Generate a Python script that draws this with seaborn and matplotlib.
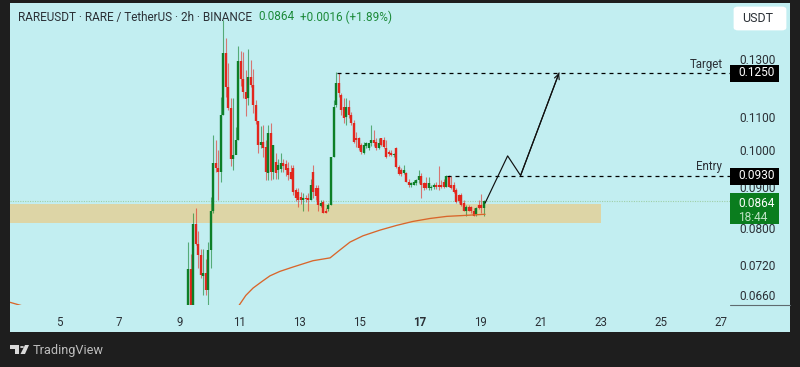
import matplotlib
matplotlib.use("Agg")
import matplotlib.pyplot as plt
from matplotlib.patches import Rectangle, FancyBboxPatch, Polygon, Circle
import numpy as np
import pandas as pd
import seaborn as sns

title_main = "RAREUSDT · RARE / TetherUS · 2h · BINANCE"
title_price = "0.0864"
title_change = "+0.0016 (+1.89%)"
x_ticks = [5, 7, 9, 11, 13, 15, 17, 19, 21, 23, 25, 27]
y_ticks = [0.13, 0.11, 0.10, 0.09, 0.08, 0.072, 0.066]
target_price = 0.1250
entry_price = 0.0930
last_price = 0.0864
zone_top = 0.0856
zone_bottom = 0.0812
zone_end_day = 23
first_candle_day = 9.29

opens = [.0640,.0710,.0640,.0808,.0763,.0741,.0696,.0702,.0670,.0750,.0839,.0963,.0950,.0939,.1106,.1323,.1200,.1129,.0975,.0986,
         .1029,.1292,.1228,.1181,.1162,.1236,.1207,.1139,.1087,.1015,.1023,.1009,.0936,.1050,.0939,.0967,.0944,.0947,.0963,.0961,
         .0950,.0939,.0950,.0891,.0886,.0874,.0866,.0871,.0871,.0866,.0939,.0896,.0896,.0851,.0861,.0841,.0844,.0854,.0980,.1139,
         .1214,.1172,.1132,.1099,.1132,.1106,.1081,.1035,.1035,.1015,.0991,.1012,.1006,.1021,.1029,.1023,.1006,.1035,.1029,.1006,
         .0994,.0991,.0986,.1006,.0952,.0944,.0936,.0936,.0914,.0904,.0906,.0909,.0917,.0928,.0909,.0909,.0896,.0896,.0899,.0904,
         .0904,.0904,.0912,.0901,.0928,.0906,.0906,.0891,.0879,.0879,.0859,.0841,.0849,.0849,.0841,.0832,.0854,.0854,.0846]
closes = [.0710,.0640,.0808,.0763,.0741,.0698,.0702,.0670,.0750,.0839,.0963,.0950,.0939,.1106,.1323,.1200,.1129,.0975,.0986,.1029,
          .1292,.1228,.1181,.1158,.1236,.1207,.1139,.1087,.1015,.1023,.1006,.0939,.1050,.0939,.1015,.0936,.0958,.0963,.0955,.0944,
          .0931,.0922,.0886,.0871,.0866,.0866,.0871,.0869,.0866,.0904,.0886,.0876,.0854,.0859,.0836,.0834,.0854,.0980,.1132,.1214,
          .1178,.1122,.1096,.1132,.1106,.1081,.1023,.1029,.1006,.0994,.1015,.1021,.1021,.1029,.1021,.1006,.1021,.1015,.1009,.0980,
          .0989,.0986,.0989,.0952,.0934,.0934,.0944,.0914,.0904,.0909,.0912,.0917,.0928,.0904,.0896,.0896,.0909,.0901,.0904,.0899,
          .0899,.0899,.0899,.0928,.0901,.0896,.0886,.0861,.0864,.0854,.0841,.0849,.0841,.0841,.0829,.0846,.0846,.0846,.0864]
highs = [.0768,.0743,.0834,.0846,.0794,.0754,.0754,.0731,.0768,.0874,.1044,.1029,.1000,.1165,.1454,.1381,.1285,.1162,.1162,.1069,
         .1349,.1330,.1326,.1260,.1338,.1296,.1263,.1155,.1087,.1072,.1075,.1029,.1075,.1081,.1015,.0991,.0975,.0991,.0975,.0972,
         .0967,.0958,.0958,.0896,.0896,.0886,.0884,.0879,.0884,.0922,.0958,.0904,.0904,.0866,.0866,.0846,.0859,.0980,.1155,.1252,
         .1249,.1178,.1162,.1162,.1155,.1116,.1090,.1053,.1038,.1021,.1023,.1023,.1021,.1075,.1059,.1035,.1035,.1035,.1038,.1029,
         .1000,.1000,.0991,.1009,.0958,.0950,.0958,.0939,.0922,.0912,.0917,.0922,.0944,.0936,.0912,.0925,.0925,.0904,.0909,.0912,
         .0955,.0917,.0922,.0931,.0931,.0928,.0912,.0896,.0881,.0884,.0866,.0854,.0854,.0851,.0846,.0849,.0866,.0881,.0866]
lows = [.0640,.0640,.0640,.0761,.0712,.0692,.0659,.0659,.0640,.0712,.0836,.0939,.0866,.0912,.1106,.1165,.1122,.0955,.0944,.1009,
        .1029,.1203,.1162,.1103,.1139,.1200,.1112,.1078,.0991,.1006,.0980,.0917,.0917,.0917,.0922,.0922,.0922,.0939,.0939,.0928,
        .0917,.0920,.0879,.0864,.0849,.0856,.0841,.0861,.0839,.0866,.0871,.0866,.0839,.0849,.0836,.0834,.0839,.0854,.0980,.1132,
        .1165,.1106,.1081,.1075,.1096,.1075,.1021,.1009,.1000,.0989,.0989,.1006,.1000,.1012,.1012,.1000,.1003,.1012,.1006,.0977,
        .0983,.0983,.0980,.0950,.0931,.0928,.0934,.0912,.0901,.0901,.0904,.0906,.0909,.0871,.0891,.0894,.0891,.0891,.0894,.0894,
        .0891,.0896,.0896,.0899,.0899,.0894,.0884,.0859,.0859,.0851,.0839,.0829,.0839,.0834,.0827,.0829,.0844,.0836,.0829]

ma_days = [10.98, 11.21, 11.45, 11.75, 12.01, 12.34, 12.78, 13.44, 14.01, 14.34, 14.67, 15.10, 15.67, 16.23, 16.76, 17.33, 17.89, 18.43, 19.16]
ma_vals = [.0640, .0659, .0673, .0686, .0697, .0706, .0715, .0728, .0734, .0751, .0768, .0782, .0795, .0806, .0815, .0822, .0827, .0829, .0832]
ma_left_days = [3.37, 3.87]
ma_left_vals = [.0646, .0638]

path_days = [19.16, 19.91, 20.34, 21.62]
path_vals = [.0859, .0984, .0930, .1249]

W, H = 800, 367
BG = "#1e1e1e"
PANEL = "#c2eef1"
INK = "#2b3036"
GREEN = "#0c7f27"
RED = "#e2261d"

sns.set_theme(style="white")
plt.rcParams["font.family"] = ["Roboto", "DejaVu Sans"]

fig = plt.figure(figsize=(W / 100, H / 100), dpi=100, facecolor=BG)
fig.add_artist(Rectangle((10 / W, 1 - 332 / H), 780 / W, 329 / H, transform=fig.transFigure,
                         facecolor=PANEL, edgecolor="none", zorder=-1))
ax = fig.add_axes([10 / W, 1 - 305 / H, 720 / W, 302 / H])
ax.patch.set_alpha(0)
ax.set_yscale("log")
ax.set_xlim(3.372, 27.30)
ax.set_ylim(0.0641, 0.1527)
sns.despine(ax=ax, left=True, bottom=True, top=True, right=True)

ax.xaxis.set_major_locator(matplotlib.ticker.FixedLocator(x_ticks))
ax.set_xticklabels([str(t) for t in x_ticks], fontsize=8.3, color=INK)
for lab, t in zip(ax.get_xticklabels(), x_ticks):
    if t == 17:
        lab.set_fontweight("bold")
ax.yaxis.tick_right()
ax.yaxis.set_major_locator(matplotlib.ticker.FixedLocator(y_ticks))
ax.yaxis.set_minor_locator(matplotlib.ticker.NullLocator())
ax.set_yticklabels([f"{t:.4f}" for t in y_ticks], fontsize=8.6, color=INK)
ax.tick_params(axis="x", length=0, pad=8)
ax.tick_params(axis="y", length=0, pad=6.5)
ax.plot([1, 1 + 60 / 720], [0, 0], transform=ax.transAxes, color="#5f6b70", lw=0.8, clip_on=False)

# support zone and last price line
ax.add_patch(Rectangle((ax.get_xlim()[0], zone_bottom), zone_end_day - ax.get_xlim()[0], zone_top - zone_bottom,
                       facecolor="#ddd5a6", edgecolor="none", zorder=1))
ax.axhline(last_price, color="#9fcfa8", lw=0.8, ls=(0, (1, 1.2)), zorder=1.2)

# candles
df = pd.DataFrame({"open": opens, "close": closes, "high": highs, "low": lows})
df["day"] = first_candle_day + np.arange(len(df)) / 12
df["color"] = np.where(df["close"] >= df["open"], GREEN, RED)
ax.vlines(df["day"], df["low"], df["high"], colors=df["color"], lw=0.8, alpha=0.6, zorder=2)
ax.vlines(df["day"], df[["open", "close"]].min(axis=1), df[["open", "close"]].max(axis=1),
          colors=df["color"], lw=1.7, zorder=3)

# moving average
sns.lineplot(x=ma_days, y=ma_vals, ax=ax, color="#d9662b", lw=0.95, estimator=None, sort=False, zorder=4)
sns.lineplot(x=ma_left_days, y=ma_left_vals, ax=ax, color="#d9662b", lw=0.95, estimator=None, sort=False, zorder=4)

# trade levels
dash = (0, (3.2, 3.2))
ax.hlines(target_price, 14.24, ax.get_xlim()[1], colors="black", lw=0.9, linestyles=[dash], zorder=5)
ax.hlines(entry_price, 17.9, ax.get_xlim()[1], colors="black", lw=0.9, linestyles=[dash], zorder=5)
ax.text(27.05, target_price * 1.006, "Target", ha="right", va="bottom", fontsize=8.3, color=INK, zorder=6)
ax.text(27.05, entry_price * 1.006, "Entry", ha="right", va="bottom", fontsize=8.3, color=INK, zorder=6)

# projected path
sns.lineplot(x=path_days, y=path_vals, ax=ax, color="#111111", lw=0.85, estimator=None, sort=False, zorder=6)
ax.annotate("", xy=(path_days[-1], path_vals[-1]), xytext=(path_days[-2], path_vals[-2]),
            arrowprops=dict(arrowstyle="->", color="#111111", lw=0.85, shrinkA=0, shrinkB=0, mutation_scale=9), zorder=6)

# price labels on the right
ytr = ax.get_yaxis_transform()
box_w = 49 / 720
def price_box(low, high, color):
    ax.add_patch(Rectangle((1, low), box_w, high - low, transform=ytr, facecolor=color,
                           edgecolor="none", clip_on=False, zorder=7))
price_box(0.1217, 0.1278, "black")
price_box(0.0904, 0.0950, "black")
price_box(0.0808, 0.0885, "#0a7d1e")
tx = 1 + 8.5 / 720
ax.text(tx, target_price, "0.1250", transform=ytr, color="white", fontsize=8.6, va="center", ha="left", zorder=8)
ax.text(tx, entry_price, "0.0930", transform=ytr, color="white", fontsize=8.6, va="center", ha="left", zorder=8)
ax.text(tx, 0.0859, "0.0864", transform=ytr, color="white", fontsize=8.6, va="center", ha="left", zorder=8)
ax.text(tx, 0.0824, "18:44", transform=ytr, color="#bfe3c5", fontsize=8.6, va="center", ha="left", zorder=8)

# header texts
def px(x, y):
    return x / W, 1 - y / H
fig.text(*px(18, 17), title_main, fontsize=8.45, color=INK, va="center", ha="left")
fig.text(*px(258, 17), title_price, fontsize=8.45, color="#1c8a3a", va="center", ha="left")
fig.text(*px(300, 17), title_change, fontsize=8.45, color="#1c8a3a", va="center", ha="left")

# currency button
fig.add_artist(FancyBboxPatch((735 / W, 1 - 29 / H), 50 / W, 21 / H, boxstyle="round,pad=0,rounding_size=0.004",
                              transform=fig.transFigure, facecolor="white", edgecolor="white", lw=2))
fig.text(*px(758, 18), "USDT", fontsize=9, color=INK, va="center", ha="center")

# footer logo + brand
LOGO = "#d9d9d9"
def poly(points):
    fig.add_artist(Polygon([px(*p) for p in points], closed=True, transform=fig.transFigure,
                           facecolor=LOGO, edgecolor="none"))
poly([(10, 345), (19, 345), (19, 354), (15, 354), (15, 349), (10, 349)])
poly([(25, 345), (29, 345), (25, 354), (20.5, 354)])
fig.add_artist(Circle(px(22, 347), 2 / W, transform=fig.transFigure, facecolor=LOGO, edgecolor="none"))
fig.text(*px(33, 350.5), "TradingView", fontsize=9.2, color="#bdbdbd", va="center", ha="left")

fig.savefig("out.png", dpi=100, facecolor=BG)
